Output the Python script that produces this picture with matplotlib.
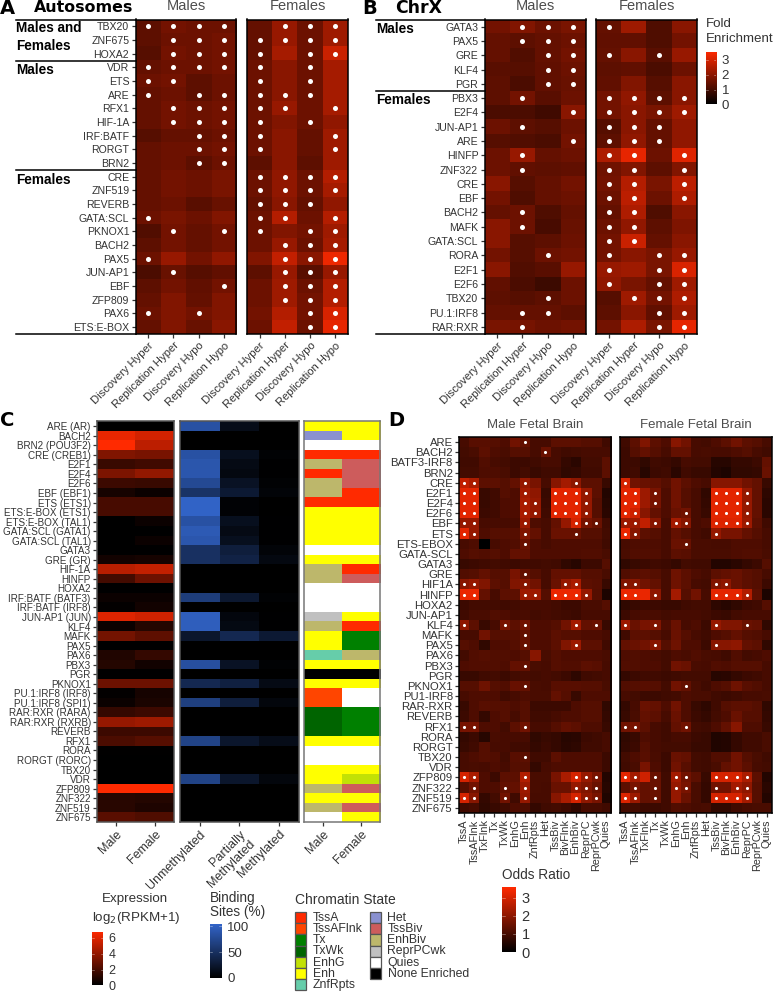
import numpy as np
import matplotlib
import matplotlib.pyplot as plt
from matplotlib.colors import LinearSegmentedColormap, ListedColormap
from matplotlib.patches import Rectangle

matplotlib.use('Agg')
plt.rcParams['font.family'] = ['Liberation Sans', 'DejaVu Sans']

W, H = 773, 992
GREY = '#333333'

conditions = ['Discovery Hyper', 'Replication Hyper', 'Discovery Hypo', 'Replication Hypo']

auto_labels = ['TBX20', 'ZNF675', 'HOXA2', 'VDR', 'ETS', 'ARE', 'RFX1', 'HIF-1A', 'IRF:BATF', 'RORGT', 'BRN2',
               'CRE', 'ZNF519', 'REVERB', 'GATA:SCL', 'PKNOX1', 'BACH2', 'PAX5', 'JUN-AP1', 'EBF', 'ZFP809',
               'PAX6', 'ETS:E-BOX']
auto_male = [[1.3, 1.6, 1.5, 1.5], [1.3, 1.5, 1.5, 1.6], [1.2, 1.6, 1.5, 1.6], [1.4, 1.5, 1.5, 1.6],
             [1.5, 1.6, 1.3, 1.5], [1.4, 1.5, 1.3, 1.5], [1.4, 1.6, 1.5, 1.6], [1.4, 1.6, 1.5, 1.6],
             [1.2, 1.4, 1.4, 1.5], [1.4, 1.5, 1.5, 1.6], [1.4, 1.5, 1.3, 1.5], [1.4, 1.6, 1.5, 1.7],
             [1.4, 1.6, 1.5, 1.7], [1.4, 1.5, 1.25, 1.45], [1.5, 1.7, 1.5, 1.8], [1.15, 1.6, 1.4, 1.6],
             [1.3, 1.6, 1.4, 1.6], [1.5, 2.1, 1.6, 2.0], [1.05, 1.45, 1.2, 1.35], [1.3, 1.6, 1.35, 1.6],
             [1.4, 1.8, 1.4, 1.8], [1.5, 1.8, 1.6, 1.8], [1.4, 1.8, 1.45, 1.9]]
auto_female = [[1.4, 2.1, 1.5, 2.2], [1.4, 2.1, 1.5, 2.2], [1.4, 2.3, 1.5, 2.8], [1.5, 1.9, 1.5, 2.3],
               [1.5, 1.9, 1.5, 2.3], [1.5, 1.9, 1.5, 2.3], [1.5, 2.1, 1.5, 2.3], [1.5, 1.8, 1.5, 2.0],
               [1.5, 1.9, 1.4, 2.2], [1.5, 1.9, 1.4, 2.2], [1.3, 1.9, 1.3, 2.2], [1.5, 2.0, 1.5, 2.5],
               [1.5, 2.0, 1.5, 2.3], [1.4, 1.9, 1.4, 2.0], [1.5, 2.5, 1.5, 2.5], [1.5, 1.8, 1.6, 2.2],
               [1.5, 2.1, 1.5, 2.3], [1.8, 2.7, 1.9, 3.3], [1.3, 2.1, 1.25, 2.1], [1.5, 2.2, 1.5, 2.5],
               [1.5, 2.2, 1.6, 2.5], [1.6, 2.5, 1.6, 3.0], [1.5, 2.7, 1.5, 3.2]]
auto_male_sig = ['xxxx', '.xxx', '.xxx', 'xxxx', 'xx..', 'x.xx', '.xxx', '.xxx', '..xx', '..xx', '..xx', '....',
                 '....', '....', 'x...', '.x.x', '....', 'x...', '.x..', '...x', '....', 'x.x.', '....']
auto_female_sig = ['.xxx', 'xxxx', 'x.xx', 'x.x.', 'x.x.', 'xxx.', 'xx.x', 'x.x.', 'x..x', 'x..x', '....', 'xxxx',
                   'xxxx', 'xxx.', 'xx.x', 'x.xx', '.xxx', '.xxx', '.xxx', '.xxx', '.xxx', '..xx', '..xx']

chrx_labels = ['GATA3', 'PAX5', 'GRE', 'KLF4', 'PGR', 'PBX3', 'E2F4', 'JUN-AP1', 'ARE', 'HINFP', 'ZNF322', 'CRE',
               'EBF', 'BACH2', 'MAFK', 'GATA:SCL', 'RORA', 'E2F1', 'E2F6', 'TBX20', 'PU.1:IRF8', 'RAR:RXR']
chrx_male = [[1.6, 1.8, 1.5, 1.7], [1.4, 1.3, 1.4, 1.5], [1.4, 1.15, 1.4, 1.6], [1.25, 1.2, 1.35, 1.5],
             [1.3, 1.05, 1.35, 1.45], [1.3, 1.6, 1.25, 1.5], [1.05, 1.05, 0.9, 1.9], [1.5, 1.3, 1.2, 1.5],
             [1.2, 1.15, 1.05, 1.6], [1.5, 2.1, 1.4, 1.5], [1.5, 1.35, 1.3, 1.35], [1.9, 1.2, 1.4, 1.6],
             [1.6, 1.1, 1.4, 1.5], [1.4, 1.5, 1.1, 1.4], [1.9, 1.5, 1.0, 1.45], [1.9, 1.2, 1.3, 1.5],
             [1.6, 1.2, 1.5, 1.6], [1.9, 1.15, 1.25, 2.1], [1.35, 1.05, 0.85, 1.5], [1.3, 1.2, 1.3, 1.5],
             [1.4, 1.4, 1.4, 1.3], [1.7, 1.65, 1.5, 1.6]]
chrx_female = [[1.4, 2.2, 1.1, 1.9], [1.35, 1.35, 1.1, 1.6], [1.4, 1.9, 1.25, 2.1], [1.3, 1.35, 1.05, 1.5],
               [1.35, 1.8, 1.2, 1.9], [1.6, 2.0, 1.3, 1.9], [1.6, 1.9, 1.7, 2.2], [1.2, 1.9, 1.4, 2.0],
               [1.3, 2.0, 1.4, 2.0], [2.4, 3.2, 1.5, 3.1], [1.55, 1.8, 1.3, 1.8], [1.6, 2.5, 1.7, 2.6],
               [1.5, 2.6, 1.5, 2.4], [1.4, 2.4, 1.1, 1.9], [1.5, 2.0, 1.3, 1.75], [1.6, 2.8, 1.4, 1.9],
               [1.6, 1.9, 1.7, 2.1], [2.1, 2.2, 1.7, 3.0], [2.0, 1.7, 1.4, 2.2], [1.2, 2.2, 1.6, 2.4],
               [1.3, 1.9, 1.35, 2.2], [1.6, 2.4, 1.7, 3.2]]
chrx_male_sig = ['.xxx', '.xxx', '..xx', '..xx', '..xx', '.x..', '...x', '.x..', '...x', '.x..', '.x..', '....',
                 '....', '.x..', '.x..', '....', '..x.', '....', '....', '..x.', '.xx.', '.x..']
chrx_female_sig = ['x...', '....', 'x.x.', '....', '....', 'xxxx', 'xxxx', 'xxx.', 'xxx.', 'xx.x', 'xx.x', 'xx.x',
                   'xx.x', 'xx..', 'xx..', 'xx..', 'x.xx', 'x.xx', 'x.xx', '.xxx', '..xx', '..xx']

tf_labels = ['ARE (AR)', 'BACH2', 'BRN2 (POU3F2)', 'CRE (CREB1)', 'E2F1', 'E2F4', 'E2F6', 'EBF (EBF1)', 'ETS (ETS1)',
             'ETS:E-BOX (ETS1)', 'ETS:E-BOX (TAL1)', 'GATA:SCL (GATA1)', 'GATA:SCL (TAL1)', 'GATA3', 'GRE (GR)',
             'HIF-1A', 'HINFP', 'HOXA2', 'IRF:BATF (BATF3)', 'IRF:BATF (IRF8)', 'JUN-AP1 (JUN)', 'KLF4', 'MAFK',
             'PAX5', 'PAX6', 'PBX3', 'PGR', 'PKNOX1', 'PU.1:IRF8 (IRF8)', 'PU.1:IRF8 (SPI1)', 'RAR:RXR (RARA)',
             'RAR:RXR (RXRB)', 'REVERB', 'RFX1', 'RORA', 'RORGT (RORC)', 'TBX20', 'VDR', 'ZFP809', 'ZNF322',
             'ZNF519', 'ZNF675']
expr_male = [0, 6.2, 6.8, 3.4, 1.5, 3.3, 1.6, 0.6, 1.9, 1.9, 0, 0, 0, 0, 0.5, 4.9, 1.8, 0, 0.3, 0.1, 5.9, 0.3, 3.1,
             0, 0.9, 1.0, 0, 2.9, 0.1, 0.3, 1.4, 4.0, 1.6, 2.0, 0.05, 0, 0, 0, 6.9, 1.1, 1.1, 2.4]
expr_female = [0, 5.6, 5.0, 3.2, 1.7, 3.9, 1.5, 0.3, 1.9, 1.9, 0.3, 0, 0.3, 0, 0.6, 5.2, 2.9, 0, 0.3, 0.5, 5.5, 1.0,
               2.5, 0, 1.4, 0.5, 0, 2.9, 0.6, 0.7, 1.6, 4.2, 1.6, 2.3, 0.05, 0, 0, 0, 6.9, 1.0, 0.8, 2.1]
unmethylated = [80, 0, 0, 80, 84, 85, 72, 50, 97, 97, 80, 88, 85, 48, 48, 0, 0, 0, 60, 0, 92, 92, 22, 0, 0, 78, 0, 40,
                0, 62, 0, 0, 0, 66, 0, 0, 0, 66, 0, 0, 0, 0]
partial = [12, 0, 0, 15, 10, 8, 18, 25, 3, 3, 15, 10, 15, 30, 34, 0, 0, 0, 24, 0, 7, 9, 40, 0, 0, 18, 0, 32, 0, 30,
           0, 0, 0, 22, 0, 0, 0, 22, 0, 0, 0, 0]
methylated = [0, 0, 0, 2, 1, 1, 2, 4, 0, 0, 1, 1, 1, 4, 8, 0, 0, 0, 2, 0, 1, 1, 25, 0, 0, 2, 0, 10, 0, 6, 0, 0, 0, 12,
              0, 0, 0, 6, 0, 0, 0, 0]
state_names = ['TssA', 'TssAFlnk', 'Tx', 'TxWk', 'EnhG', 'Enh', 'ZnfRpts',
               'Het', 'TssBiv', 'EnhBiv', 'ReprPCwk', 'Quies', 'None Enriched']
state_colors = ['#FF2A00', '#FF4500', '#008000', '#006400', '#C2E105', '#FFFF00', '#66CDAA',
                '#8A91D0', '#CD5C5C', '#BDB76B', '#C0C0C0', '#FFFFFF', '#000000']
state_male = ['Enh', 'Het', 'Quies', 'TssA', 'EnhBiv', 'TssA', 'EnhBiv', 'EnhBiv', 'TssA', 'Enh', 'Enh', 'Enh', 'Enh',
              'Quies', 'Enh', 'EnhBiv', 'EnhBiv', 'Quies', 'Quies', 'Quies', 'ReprPCwk', 'EnhBiv', 'Enh', 'Enh',
              'ZnfRpts', 'Enh', 'None Enriched', 'Enh', 'TssAFlnk', 'TssAFlnk', 'TxWk', 'TxWk', 'TxWk', 'Enh', 'Quies',
              'Quies', 'Enh', 'Enh', 'EnhBiv', 'Enh', 'EnhBiv', 'Quies']
state_female = ['Enh', 'Enh', 'Quies', 'TssA', 'TssBiv', 'TssBiv', 'TssBiv', 'TssA', 'TssA', 'Enh', 'Enh', 'Enh', 'Enh',
                'Quies', 'Enh', 'TssA', 'TssBiv', 'Quies', 'Quies', 'Quies', 'Enh', 'TssA', 'Tx', 'Tx',
                'EnhBiv', 'Enh', 'None Enriched', 'Enh', 'Quies', 'Quies', 'Tx', 'Tx', 'Tx', 'Enh', 'Quies',
                'Quies', 'Enh', 'EnhG', 'TssBiv', 'Enh', 'TssBiv', 'Enh']

fetal_labels = ['ARE', 'BACH2', 'BATF3-IRF8', 'BRN2', 'CRE', 'E2F1', 'E2F4', 'E2F6', 'EBF', 'ETS', 'ETS-EBOX',
                'GATA-SCL', 'GATA3', 'GRE', 'HIF1A', 'HINFP', 'HOXA2', 'JUN-AP1', 'KLF4', 'MAFK', 'PAX5', 'PAX6',
                'PBX3', 'PGR', 'PKNOX1', 'PU1-IRF8', 'RAR-RXR', 'REVERB', 'RFX1', 'RORA', 'RORGT', 'TBX20', 'VDR',
                'ZFP809', 'ZNF322', 'ZNF519', 'ZNF675']
fetal_states = ['TssA', 'TssAFlnk', 'TxFlnk', 'Tx', 'TxWk', 'EnhG', 'Enh', 'ZnfRpts', 'Het', 'TssBiv', 'BivFlnk',
                'EnhBiv', 'ReprPC', 'ReprPCwk', 'Quies']
fetal_male = [
    [1.0, 1.25, 1.25, 1.2, 1.1, 1.6, 1.4, 1.0, 1.0, 1.3, 1.3, 1.3, 1.2, 1.2, 0.9],
    [0.95, 1.05, 1.3, 1.1, 1.05, 1.2, 1.2, 1.0, 1.5, 1.0, 0.9, 0.95, 1.0, 1.0, 1.0],
    [0.9, 0.9, 1.15, 1.0, 0.95, 0.85, 0.85, 0.9, 1.0, 1.0, 0.75, 0.6, 0.95, 0.95, 1.3],
    [0.95, 0.95, 1.1, 1.1, 1.05, 0.85, 0.95, 0.8, 0.9, 0.9, 0.7, 0.75, 0.9, 0.9, 1.3],
    [2.7, 2.4, 1.3, 1.3, 1.2, 1.4, 2.1, 1.7, 1.0, 1.9, 2.3, 2.0, 1.3, 1.3, 0.8],
    [3.2, 3.2, 0.8, 0.9, 1.2, 1.1, 2.3, 2.0, 0.8, 3.2, 3.2, 3.2, 2.1, 1.3, 0.5],
    [3.2, 3.2, 0.8, 0.9, 1.1, 1.1, 2.4, 2.1, 0.85, 3.2, 3.2, 3.2, 2.1, 1.2, 0.55],
    [3.2, 3.2, 0.85, 0.9, 1.1, 1.1, 2.4, 2.1, 0.9, 3.2, 3.2, 3.2, 2.1, 1.2, 0.6],
    [2.1, 2.1, 1.0, 1.0, 1.0, 1.0, 2.2, 1.1, 1.0, 1.4, 2.1, 3.0, 1.7, 1.5, 0.9],
    [3.2, 2.1, 1.1, 1.2, 1.2, 1.2, 1.8, 1.4, 1.0, 1.5, 1.5, 1.5, 1.2, 1.2, 0.95],
    [1.0, 1.1, 0.0, 1.0, 1.1, 1.15, 1.5, 1.1, 1.0, 1.1, 1.1, 1.1, 1.1, 1.1, 0.9],
    [1.1, 1.2, 1.15, 1.2, 1.1, 1.4, 1.4, 1.1, 1.1, 1.1, 1.1, 1.1, 1.15, 1.15, 1.05],
    [0.8, 0.85, 0.9, 0.95, 0.9, 0.85, 0.9, 0.9, 0.95, 0.9, 0.7, 0.55, 0.85, 0.85, 1.2],
    [1.15, 1.2, 1.4, 1.2, 1.2, 1.7, 1.4, 1.2, 1.0, 1.4, 1.4, 1.4, 1.2, 1.2, 1.05],
    [1.9, 2.1, 1.8, 1.3, 1.2, 1.8, 1.9, 1.6, 1.0, 1.5, 2.1, 2.4, 1.3, 1.25, 0.8],
    [3.3, 3.3, 1.4, 1.0, 1.3, 1.3, 2.2, 2.2, 1.2, 3.3, 3.3, 3.3, 2.1, 1.2, 0.4],
    [0.85, 0.95, 0.95, 0.95, 0.9, 0.95, 1.0, 1.0, 1.0, 0.95, 0.85, 0.85, 1.05, 1.05, 1.2],
    [0.9, 1.05, 1.05, 1.15, 1.1, 1.0, 1.05, 0.95, 1.0, 0.95, 0.9, 0.85, 1.0, 1.0, 1.0],
    [2.0, 1.3, 0.8, 1.0, 1.7, 1.3, 1.6, 1.1, 1.1, 1.2, 1.6, 2.3, 1.4, 1.5, 0.8],
    [1.0, 1.0, 1.6, 1.2, 1.2, 1.2, 1.4, 1.1, 1.1, 1.3, 1.2, 1.2, 1.1, 1.1, 1.0],
    [1.2, 1.1, 0.7, 1.1, 1.1, 1.2, 1.5, 1.1, 1.1, 1.3, 1.8, 2.2, 1.3, 1.3, 0.9],
    [0.95, 1.15, 1.2, 1.15, 1.15, 1.1, 1.2, 1.9, 1.05, 1.2, 1.1, 1.1, 1.1, 1.1, 1.05],
    [1.1, 1.15, 1.15, 1.15, 1.1, 1.4, 1.4, 1.05, 1.0, 1.2, 1.15, 1.15, 1.3, 1.25, 1.0],
    [0.8, 0.8, 0.9, 0.95, 0.85, 0.95, 1.0, 0.95, 1.0, 0.95, 0.85, 0.65, 0.9, 0.95, 1.0],
    [1.2, 1.2, 1.55, 1.2, 1.15, 1.45, 1.4, 1.05, 1.0, 1.25, 1.25, 1.25, 1.2, 1.2, 1.05],
    [1.0, 1.1, 1.1, 1.1, 0.9, 1.0, 1.1, 1.05, 1.05, 1.4, 1.2, 0.8, 1.1, 1.1, 1.1],
    [0.8, 1.1, 1.25, 1.2, 1.2, 1.1, 1.2, 0.85, 0.85, 0.85, 0.85, 1.1, 1.2, 1.2, 0.7],
    [0.85, 1.1, 0.75, 1.1, 1.2, 1.0, 1.2, 0.9, 0.9, 1.0, 1.1, 1.1, 1.2, 1.2, 0.75],
    [1.7, 1.7, 1.1, 1.1, 0.95, 1.3, 1.6, 1.0, 1.0, 1.2, 1.4, 1.3, 1.1, 1.1, 0.8],
    [0.75, 0.85, 0.55, 1.05, 1.0, 1.0, 1.0, 0.7, 0.8, 0.75, 0.55, 0.6, 0.85, 0.9, 1.0],
    [0.8, 0.9, 1.2, 1.0, 1.0, 0.9, 0.9, 0.75, 0.85, 0.75, 0.6, 0.65, 0.9, 0.9, 1.0],
    [1.0, 1.1, 1.2, 1.15, 0.95, 1.25, 1.3, 0.9, 0.9, 1.3, 1.1, 1.1, 1.1, 1.1, 0.85],
    [1.0, 1.05, 1.0, 1.1, 1.0, 1.2, 1.2, 0.75, 1.0, 1.1, 1.1, 1.1, 1.1, 1.1, 0.85],
    [3.0, 2.4, 1.1, 0.85, 1.3, 1.3, 2.5, 1.05, 1.05, 1.7, 2.4, 3.0, 2.1, 1.7, 0.5],
    [1.2, 1.6, 1.1, 1.1, 1.4, 1.4, 2.2, 1.05, 1.0, 1.5, 1.5, 2.1, 1.8, 1.5, 0.55],
    [3.0, 1.9, 0.75, 0.95, 1.6, 0.9, 2.1, 1.0, 1.0, 1.9, 2.4, 3.0, 2.0, 1.7, 0.45],
    [0.9, 1.0, 0.7, 0.8, 0.9, 1.1, 1.1, 0.75, 0.9, 0.95, 0.85, 0.65, 1.0, 1.0, 0.9]]
fetal_female = [
    [0.9, 1.3, 1.8, 1.3, 1.1, 1.9, 1.6, 1.0, 0.95, 1.1, 1.3, 1.6, 1.3, 1.2, 1.0],
    [0.85, 1.2, 1.4, 1.2, 1.0, 1.4, 1.4, 1.0, 1.05, 1.0, 1.0, 1.1, 1.2, 1.0, 0.9],
    [0.85, 0.85, 0.7, 0.9, 0.85, 0.75, 1.0, 0.95, 0.95, 0.55, 0.55, 0.75, 0.75, 0.85, 1.4],
    [0.85, 0.9, 0.55, 0.85, 0.9, 0.6, 0.9, 0.8, 0.8, 0.5, 0.4, 0.7, 0.7, 0.75, 1.5],
    [3.0, 1.6, 1.5, 1.4, 1.2, 1.6, 1.3, 1.1, 1.0, 1.9, 1.9, 1.9, 1.6, 1.4, 0.8],
    [3.2, 3.2, 2.2, 1.7, 1.1, 1.6, 1.2, 1.0, 0.7, 3.2, 3.2, 3.2, 2.1, 1.4, 0.65],
    [3.2, 3.2, 2.2, 1.7, 1.1, 1.6, 1.2, 1.0, 0.75, 3.2, 3.2, 3.2, 2.1, 1.4, 0.6],
    [3.2, 2.9, 1.9, 1.4, 1.1, 1.5, 1.6, 1.0, 0.8, 3.2, 3.2, 3.2, 2.1, 1.4, 0.6],
    [2.2, 2.2, 2.7, 1.9, 1.0, 2.3, 1.9, 1.0, 1.1, 3.1, 3.1, 3.1, 2.2, 1.3, 0.9],
    [3.3, 1.9, 1.3, 1.2, 1.0, 1.4, 1.2, 1.0, 0.9, 2.1, 1.7, 1.7, 1.4, 1.2, 1.0],
    [1.0, 1.1, 1.1, 1.1, 1.0, 1.5, 1.5, 1.05, 1.05, 1.0, 1.0, 1.1, 1.1, 1.1, 1.0],
    [1.05, 1.15, 1.15, 1.15, 1.0, 1.3, 1.25, 1.05, 1.05, 1.05, 1.05, 1.1, 1.15, 1.15, 1.05],
    [0.7, 0.8, 0.85, 0.9, 0.85, 0.75, 0.95, 0.9, 0.9, 0.5, 0.5, 0.6, 0.75, 0.85, 1.2],
    [1.15, 1.25, 1.3, 1.2, 1.0, 1.55, 1.3, 1.1, 1.0, 1.3, 1.4, 1.5, 1.3, 1.2, 1.0],
    [1.8, 1.9, 1.6, 1.4, 1.0, 1.55, 1.3, 1.0, 0.95, 1.8, 2.0, 1.5, 1.3, 1.2, 0.85],
    [3.3, 3.3, 3.3, 2.0, 1.0, 2.3, 1.2, 1.6, 1.0, 3.2, 3.2, 3.2, 2.5, 1.3, 0.4],
    [0.7, 0.8, 0.85, 0.85, 0.8, 0.8, 0.9, 0.95, 0.95, 0.65, 0.55, 0.7, 0.85, 0.9, 1.2],
    [0.85, 1.0, 1.05, 1.05, 0.95, 1.0, 1.0, 1.0, 0.95, 0.85, 0.8, 0.95, 1.0, 1.0, 1.0],
    [2.2, 1.5, 1.7, 1.8, 1.1, 1.5, 1.0, 1.1, 0.85, 2.1, 1.8, 1.8, 1.5, 1.4, 0.7],
    [0.9, 1.3, 1.3, 1.2, 1.0, 1.5, 1.2, 1.0, 0.9, 1.1, 1.2, 1.4, 1.2, 1.15, 1.0],
    [1.4, 1.5, 1.6, 1.9, 1.2, 1.55, 1.1, 1.1, 0.85, 1.9, 1.9, 2.0, 1.4, 1.3, 0.7],
    [1.1, 1.15, 1.1, 1.05, 0.95, 1.1, 1.05, 1.15, 1.05, 1.0, 0.9, 1.15, 0.95, 1.0, 1.1],
    [1.15, 1.15, 1.1, 1.1, 0.95, 1.6, 1.5, 1.05, 1.0, 1.15, 1.1, 1.2, 1.2, 1.2, 1.0],
    [0.75, 0.85, 0.9, 0.9, 0.85, 0.9, 0.95, 0.95, 0.95, 0.55, 0.6, 0.75, 0.85, 0.9, 1.0],
    [1.15, 1.2, 1.25, 1.2, 0.95, 1.6, 1.4, 1.05, 0.9, 1.1, 1.2, 1.55, 1.25, 1.15, 1.0],
    [1.0, 0.95, 0.85, 0.85, 0.9, 0.95, 1.1, 1.05, 1.05, 0.9, 0.85, 0.9, 1.0, 1.0, 1.05],
    [0.75, 1.0, 1.5, 1.4, 1.1, 1.6, 1.1, 0.8, 0.65, 0.9, 1.2, 1.3, 1.3, 1.2, 0.7],
    [0.8, 1.05, 1.4, 1.3, 1.0, 1.5, 1.1, 0.85, 0.75, 0.95, 1.1, 1.5, 1.2, 1.2, 0.75],
    [1.6, 1.7, 1.3, 1.0, 0.9, 1.4, 1.6, 0.95, 0.9, 1.1, 1.4, 1.9, 1.1, 1.1, 0.8],
    [0.7, 0.8, 1.1, 1.0, 0.9, 1.0, 1.0, 0.85, 0.8, 0.45, 0.5, 0.75, 0.9, 0.9, 1.05],
    [0.75, 0.85, 1.2, 1.0, 0.95, 0.95, 0.95, 0.8, 0.8, 0.45, 0.5, 0.75, 0.9, 0.9, 1.05],
    [0.95, 1.1, 1.25, 1.05, 0.85, 1.5, 1.4, 0.95, 0.9, 1.15, 1.15, 1.6, 1.2, 1.05, 0.9],
    [0.9, 1.05, 1.7, 1.1, 0.85, 1.6, 1.25, 0.95, 0.9, 1.05, 1.4, 1.6, 1.3, 1.0, 0.95],
    [3.2, 2.3, 2.9, 1.5, 0.9, 2.3, 1.6, 1.3, 0.8, 3.0, 3.0, 3.0, 2.4, 1.3, 0.5],
    [1.3, 1.7, 1.4, 1.5, 0.9, 2.1, 1.7, 1.05, 0.75, 1.6, 1.6, 2.3, 2.0, 1.2, 0.6],
    [3.1, 2.2, 1.4, 1.5, 0.9, 2.1, 1.5, 1.05, 0.75, 3.0, 3.0, 3.0, 2.3, 1.2, 0.5],
    [0.95, 0.95, 0.85, 0.85, 0.9, 1.15, 1.1, 1.0, 1.05, 0.7, 0.7, 0.9, 1.0, 1.05, 1.05]]
fetal_male_sig = {'ARE': [6], 'BACH2': [8], 'CRE': [0, 1, 6, 11], 'E2F1': [0, 1, 6, 9, 10, 11, 12],
                  'E2F4': [0, 1, 6, 7, 9, 10, 11, 12], 'E2F6': [0, 1, 6, 7, 9, 10, 11, 12],
                  'EBF': [0, 1, 6, 11, 12, 13], 'ETS': [0, 1, 6, 11], 'ETS-EBOX': [6], 'GRE': [6],
                  'HIF1A': [0, 1, 6, 10, 11], 'HINFP': [0, 1, 6, 7, 9, 10, 11, 12], 'KLF4': [0, 4, 6, 11, 13],
                  'MAFK': [6], 'PAX5': [6, 11], 'PBX3': [6], 'PKNOX1': [6], 'RFX1': [0, 1, 6], 'TBX20': [6],
                  'ZFP809': [0, 1, 6, 11, 12, 13], 'ZNF322': [1, 4, 6, 11, 12, 13],
                  'ZNF519': [0, 1, 4, 6, 11, 12, 13]}
fetal_female_sig = {'CRE': [0], 'E2F1': [0, 1, 3, 9, 10, 11, 12], 'E2F4': [0, 1, 3, 9, 10, 11, 12],
                    'E2F6': [0, 1, 6, 9, 10, 11, 12], 'EBF': [0, 1, 3, 5, 6, 9, 10, 11, 12], 'ETS': [0, 1, 9],
                    'ETS-EBOX': [6], 'HIF1A': [0, 1, 9, 10], 'HINFP': [0, 1, 3, 9, 10, 11, 12],
                    'KLF4': [0, 3, 9, 12], 'PAX5': [3, 9], 'PKNOX1': [6], 'RFX1': [0, 1, 6],
                    'ZFP809': [0, 1, 3, 5, 6, 9, 10, 11, 12], 'ZNF322': [1, 3, 5, 6, 9, 11, 12],
                    'ZNF519': [0, 1, 3, 9, 10, 11, 12]}

red_cmap = LinearSegmentedColormap.from_list('reds', ['#000000', '#FF2A00'])
blue_cmap = LinearSegmentedColormap.from_list('blues', ['#000000', '#3366CC'])
state_cmap = ListedColormap(state_colors)

fig = plt.figure(figsize=(W / 100, H / 100), dpi=100)


def px_axes(x0, y0, x1, y1):
    # pixel box measured from the top left of the picture
    return fig.add_axes([x0 / W, 1 - y1 / H, (x1 - x0) / W, (y1 - y0) / H])


def put(x, y, s, **kw):
    kw.setdefault('color', GREY)
    kw.setdefault('va', 'center')
    fig.text(x / W, 1 - y / H, s, **kw)


def hline(x0, x1, y):
    fig.add_artist(plt.Line2D([x0 / W, x1 / W], [1 - y / H, 1 - y / H], color='black', lw=1.1))


def heat(box, values, cmap, vmax, ylabels=None, xlabels=None, edge='black', fs=7.6, rot=45, xfs=8.1):
    ax = px_axes(*box)
    ax.imshow(np.array(values, dtype=float), cmap=cmap, vmin=0, vmax=vmax, aspect='auto', interpolation='nearest')
    ax.set_yticks(range(len(values)))
    ax.set_yticklabels(ylabels if ylabels else [])
    if not ylabels:
        ax.tick_params(axis='y', length=0)
    else:
        ax.tick_params(axis='y', length=3, width=0.9, pad=1.5, labelsize=fs, labelcolor=GREY, color=GREY)
    if xlabels:
        ax.set_xticks(range(len(xlabels)))
        if rot == 90:
            ax.set_xticklabels(xlabels, rotation=90, ha='center', va='top', fontsize=xfs, color=GREY)
        else:
            ax.set_xticklabels(xlabels, rotation=rot, ha='right', va='top', rotation_mode='anchor',
                               fontsize=xfs, color=GREY)
        ax.tick_params(axis='x', length=3, width=0.9, pad=1.5, color=GREY)
    for sp in ax.spines.values():
        sp.set_color(edge)
        sp.set_linewidth(1.1)
    return ax


def sig_dots(ax, rows, size):
    xs, ys = [], []
    for r, row in enumerate(rows):
        for c, mark in enumerate(row):
            if mark == 'x':
                xs.append(c)
                ys.append(r)
    ax.scatter(xs, ys, s=size, c='white', linewidths=0, zorder=3)


def sig_from_dict(sig, labels):
    return [''.join('x' if c in sig.get(name, []) else '.' for c in range(15)) for name in labels]


def colorbar(box, cmap, vmax, ticks, fs=9.5):
    ax = px_axes(*box)
    grad = np.linspace(vmax, 0, 200).reshape(-1, 1)
    ax.imshow(grad, cmap=cmap, vmin=0, vmax=vmax, aspect='auto', extent=[0, 1, 0, vmax])
    ax.set_xticks([])
    ax.yaxis.tick_right()
    ax.set_yticks(ticks)
    ax.set_yticklabels([str(t) for t in ticks], fontsize=fs, color=GREY)
    ax.tick_params(axis='y', length=0, pad=4)
    for t in ticks:
        ax.plot([0, 0.2], [t, t], color='white', lw=0.4, alpha=0.6)
        ax.plot([0.8, 1], [t, t], color='white', lw=0.4, alpha=0.6)
    ax.set_xlim(0, 1)
    ax.set_ylim(0, vmax)
    for sp in ax.spines.values():
        sp.set_visible(False)
    return ax


# panels A and B
FE_MAX = 3.55
y0, y1 = 19.5, 334
ax = heat((135.5, y0, 236.5, y1), auto_male, red_cmap, FE_MAX, auto_labels, conditions)
sig_dots(ax, auto_male_sig, 13)
ax = heat((247, y0, 348, y1), auto_female, red_cmap, FE_MAX, None, conditions)
sig_dots(ax, auto_female_sig, 13)
ax = heat((484.5, y0, 585.5, y1), chrx_male, red_cmap, FE_MAX, chrx_labels, conditions)
sig_dots(ax, chrx_male_sig, 13)
ax = heat((596, y0, 697, y1), chrx_female, red_cmap, FE_MAX, None, conditions)
sig_dots(ax, chrx_female_sig, 13)

for x in (186, 298, 535, 647):
    put(x, 6, 'Males' if x in (186, 535) else 'Females', ha='center', fontsize=10.5, color='#4d4d4d')

for y in (y0, 61, 170, y1):
    hline(16, 135.5, y)
for y in (y0, 91, y1):
    hline(376, 484.5, y)

heavy = dict(fontweight='bold', color='black', family='DejaVu Sans')
bold = dict(fontweight='bold', color='black')
put(0, 8, 'A', fontsize=14, **heavy)
put(34, 8, 'Autosomes', fontsize=11.4, **heavy)
put(362, 8, 'B', fontsize=14, **heavy)
put(395, 8, 'ChrX', fontsize=12.4, **heavy)
put(0, 420, 'C', fontsize=14, **heavy)
put(388, 420, 'D', fontsize=14, **heavy)
put(16, 28, 'Males and', fontsize=9.8, **bold)
put(16, 46.5, 'Females', fontsize=9.8, **bold)
put(16, 70, 'Males', fontsize=9.8, **bold)
put(16, 179.5, 'Females', fontsize=9.8, **bold)
put(376, 29, 'Males', fontsize=9.8, **bold)
put(376, 100.5, 'Females', fontsize=9.8, **bold)

put(705.5, 24, 'Fold', fontsize=9.6)
put(705.5, 39, 'Enrichment', fontsize=9.6)
colorbar((705.5, 51.5, 716, 104.5), red_cmap, FE_MAX, [0, 1, 2, 3])

# panel C
c_top, c_bot = 421.5, 822
ax = heat((97, c_top, 174, c_bot), np.column_stack([expr_male, expr_female]), red_cmap, 6.8, tf_labels,
          ['Male', 'Female'], edge='#555555', fs=7.1, xfs=9)
ax = heat((180, c_top, 298.5, c_bot), np.column_stack([unmethylated, partial, methylated]), blue_cmap, 100, None,
          ['Unmethylated', 'Partially\nMethylated', 'Methylated'], edge='#555555', xfs=9)
state_idx = [[state_names.index(m), state_names.index(f)] for m, f in zip(state_male, state_female)]
ax = heat((303.5, c_top, 380, c_bot), state_idx, state_cmap, len(state_names) - 1, None, ['Male', 'Female'],
          edge='#777777', xfs=9)

# panel D
d_top, d_bot = 437, 813
ax = heat((459, d_top, 611, d_bot), fetal_male, red_cmap, 3.6, fetal_labels, fetal_states, fs=8.1, rot=90, xfs=7.8)
sig_dots(ax, sig_from_dict(fetal_male_sig, fetal_labels), 5)
ax = heat((620, d_top, 772, d_bot), fetal_female, red_cmap, 3.6, None, fetal_states, rot=90, xfs=7.8)
sig_dots(ax, sig_from_dict(fetal_female_sig, fetal_labels), 5)
put(535, 425, 'Male Fetal Brain', ha='center', fontsize=9.5, color='#4d4d4d')
put(696, 425, 'Female Fetal Brain', ha='center', fontsize=9.5, color='#4d4d4d')

# legends along the bottom
put(135, 899, 'Expression', ha='center', fontsize=9.6)
put(136, 918, r'log$_2$(RPKM+1)', ha='center', fontsize=9.6)
colorbar((92, 932, 103, 985.5), red_cmap, 6.7, [0, 2, 4, 6], fs=9)
put(210, 898, 'Binding', fontsize=9.8)
put(210, 912, 'Sites (%)', fontsize=9.8)
colorbar((210, 924, 221.5, 978), blue_cmap, 104, [0, 50, 100])

put(295, 900, 'Chromatin State', fontsize=10)
legend_ax = px_axes(290, 908, 470, 992)
legend_ax.set_xlim(290, 470)
legend_ax.set_ylim(992, 908)
legend_ax.axis('off')
for i, (name, col) in enumerate(zip(state_names, state_colors)):
    if i < 7:
        px, ty = 294.5, 912 + i * 11.2
    else:
        px, ty = 369.5, 912 + (i - 7) * 11.2
    legend_ax.add_patch(Rectangle((px, ty), 11, 11.2, fc=col, ec='#555555', lw=0.9))
    legend_ax.text(px + 18, ty + 5.8, name, fontsize=8.8, color=GREY, va='center')

put(536, 875, 'Odds Ratio', ha='center', fontsize=9.8)
colorbar((502, 887, 516, 952), red_cmap, 3.6, [0, 1, 2, 3], fs=10.5)

fig.savefig('out.png', dpi=100)
